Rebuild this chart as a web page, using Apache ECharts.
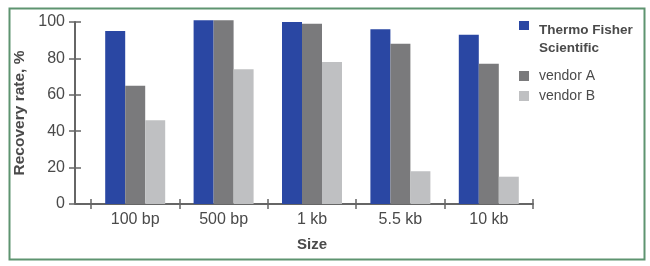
<!DOCTYPE html>
<html>
<head>
<meta charset="utf-8">
<script src="https://cdn.jsdelivr.net/npm/echarts@6/dist/echarts.min.js"></script>
<style>
html,body{margin:0;padding:0;background:#fff;}
#chart{width:650px;height:266px;}
</style>
</head>
<body>
<div id="chart"></div>
<script>
var categories = ['100 bp', '500 bp', '1 kb', '5.5 kb', '10 kb'];
var thermo = [95, 101, 100, 96, 93];
var vendorA = [65, 101, 99, 88, 77];
var vendorB = [46, 74, 78, 18, 15];
var yTicks = [0, 20, 40, 60, 80, 100];
var seriesNames = ['Thermo Fisher Scientific', 'vendor A', 'vendor B'];

var FONT = '"Liberation Sans", Arial, sans-serif';
var TXT = '#4a4a4a';
var AX = '#666';

var chart = echarts.init(document.getElementById('chart'), null, {renderer: 'canvas'});

var gridLeft = 91, gridRight = 117, gridTop = 22, gridBottom = 62;

var option = {
  backgroundColor: '#fff',
  animation: false,
  textStyle: {fontFamily: FONT},
  grid: {left: gridLeft, right: gridRight, top: gridTop, bottom: gridBottom},
  legend: [
    {
      data: [seriesNames[0]],
      left: 514, top: 16,
      orient: 'vertical',
      itemWidth: 10, itemHeight: 36,
      icon: 'path://M0,0L10,0L10,9L0,9Z M0,36L0.01,36',
      formatter: function () { return 'Thermo Fisher\nScientific'; },
      textStyle: {fontFamily: FONT, fontSize: 13.5, fontWeight: 'bold', color: '#4a4a4a', lineHeight: 18, padding: [0, 0, 0, 5]},
      itemStyle: {borderWidth: 0}
    },
    {
      data: [seriesNames[1], seriesNames[2]],
      left: 514, top: 64,
      orient: 'vertical',
      itemGap: 6,
      itemWidth: 10, itemHeight: 10,
      icon: 'rect',
      textStyle: {fontFamily: FONT, fontSize: 14, color: TXT, padding: [0, 0, 0, 5]}
    }
  ],
  xAxis: [
    {
      type: 'category',
      data: categories,
      axisLine: {show: true, lineStyle: {color: AX, width: 2}},
      axisTick: {show: true, length: 5, lineStyle: {color: AX, width: 1.5}},
      axisLabel: {fontFamily: FONT, fontSize: 16, color: TXT, margin: 8},
      name: 'Size',
      nameLocation: 'middle',
      nameGap: 33,
      nameTextStyle: {fontFamily: FONT, fontSize: 15, fontWeight: 'bold', color: TXT}
    },
    {
      type: 'category',
      data: categories,
      position: 'bottom',
      axisLine: {show: false},
      axisTick: {show: true, inside: true, length: 5, lineStyle: {color: AX, width: 1.5}},
      axisLabel: {show: false}
    }
  ],
  yAxis: [
    {
      type: 'value',
      min: 0, max: 100, interval: 20,
      offset: gridLeft - 75,
      axisLine: {show: true, lineStyle: {color: AX, width: 2}},
      axisTick: {show: true, length: 6, lineStyle: {color: AX, width: 1.5}},
      splitLine: {show: false},
      axisLabel: {fontFamily: FONT, fontSize: 16, color: TXT, margin: 10,
        formatter: function (v) { return yTicks.indexOf(v) >= 0 ? String(v) : ''; }},
      name: 'Recovery rate, %',
      nameLocation: 'middle',
      nameGap: 44,
      nameRotate: 90,
      nameTextStyle: {fontFamily: FONT, fontSize: 15.5, fontWeight: 'bold', color: TXT}
    },
    {
      type: 'value',
      min: 0, max: 100, interval: 20,
      offset: gridLeft - 75,
      position: 'left',
      axisLine: {show: false},
      axisTick: {show: true, inside: true, length: 6, lineStyle: {color: AX, width: 1.5}},
      splitLine: {show: false},
      axisLabel: {show: false}
    }
  ],
  series: [
    {name: seriesNames[0], type: 'bar', data: thermo, barWidth: 20, barGap: '0%', clip: false,
     itemStyle: {color: '#2a47a3'}},
    {name: seriesNames[1], type: 'bar', data: vendorA, barWidth: 20, barGap: '0%', clip: false,
     itemStyle: {color: '#7a7a7c'}},
    {name: seriesNames[2], type: 'bar', data: vendorB, barWidth: 20, barGap: '0%', clip: false,
     itemStyle: {color: '#bfc0c2'}}
  ],
  graphic: [
    {type: 'rect', left: 7, top: 6, shape: {x: 0, y: 0, width: 635, height: 251},
     style: {fill: 'none', stroke: '#5e9470', lineWidth: 2}, silent: true},
    {type: 'line', shape: {x1: 75, y1: 266 - gridBottom, x2: gridLeft, y2: 266 - gridBottom},
     style: {stroke: AX, lineWidth: 2}, silent: true}
  ]
};
chart.setOption(option);
</script>
</body>
</html>
